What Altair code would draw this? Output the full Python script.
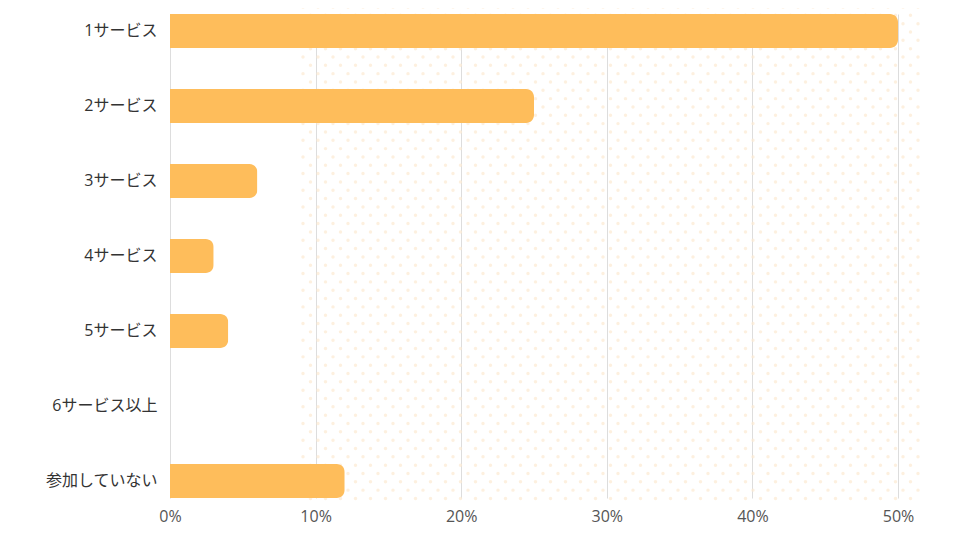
import altair as alt
import pandas as pd
import numpy as np

categories = ["1サービス", "2サービス", "3サービス", "4サービス", "5サービス", "6サービス以上", "参加していない"]
values = [50, 25, 6, 3, 4, 0, 12]
x_ticks = [0, 10, 20, 30, 40, 50]

W, H = 728, 484

df = pd.DataFrame({"cat": categories, "val": values})

# decorative dotted background (pixel offsets relative to plot area)
dots = []
for r, yy in enumerate(np.arange(-7, 490, 8.33)):
    off = 0 if r % 2 == 0 else 7.5
    for xx in np.arange(133 + off, 752, 15):
        dots.append({"px": float(xx), "py": float(yy)})
dots_df = pd.DataFrame(dots)

dot_layer = alt.Chart(dots_df).mark_circle(size=12, color="#FCEAD2", opacity=0.7).encode(
    x=alt.X("px:Q", scale=alt.Scale(domain=[0, W], nice=False, zero=False), axis=None),
    y=alt.Y("py:Q", scale=alt.Scale(domain=[0, H], nice=False, zero=False, reverse=True), axis=None),
)

bars = alt.Chart(df).mark_bar(color="#FEBD5B", cornerRadiusEnd=8).encode(
    x=alt.X(
        "val:Q",
        scale=alt.Scale(domain=[0, 50], nice=False),
        axis=alt.Axis(
            values=x_ticks,
            labelExpr="datum.value + '%'",
            title=None,
            domain=False,
            ticks=False,
            grid=True,
            gridColor="#DDDDDD",
            gridWidth=1,
            labelFlush=False,
            labelPadding=10,
            labelFontSize=16,
            labelColor="#555555",
            labelFont="Open Sans, Noto Sans CJK JP",
        ),
    ),
    y=alt.Y(
        "cat:N",
        sort=categories,
        scale=alt.Scale(paddingInner=0.547, paddingOuter=0),
        axis=alt.Axis(
            title=None,
            domain=False,
            ticks=False,
            grid=False,
            labelPadding=13,
            labelFontSize=16,
            labelColor="#333333",
            labelFont="Open Sans, Noto Sans CJK JP",
        ),
    ),
)

chart = (
    alt.layer(dot_layer, bars)
    .resolve_scale(x="independent", y="independent")
    .properties(
        width=W,
        height=H,
        autosize=alt.AutoSizeParams(type="none"),
        padding={"left": 162, "top": 6, "right": 54, "bottom": 34},
        background="white",
    )
    .configure_view(stroke=None)
)

chart.save("out.html", embed_options={"renderer": "svg", "actions": False})
